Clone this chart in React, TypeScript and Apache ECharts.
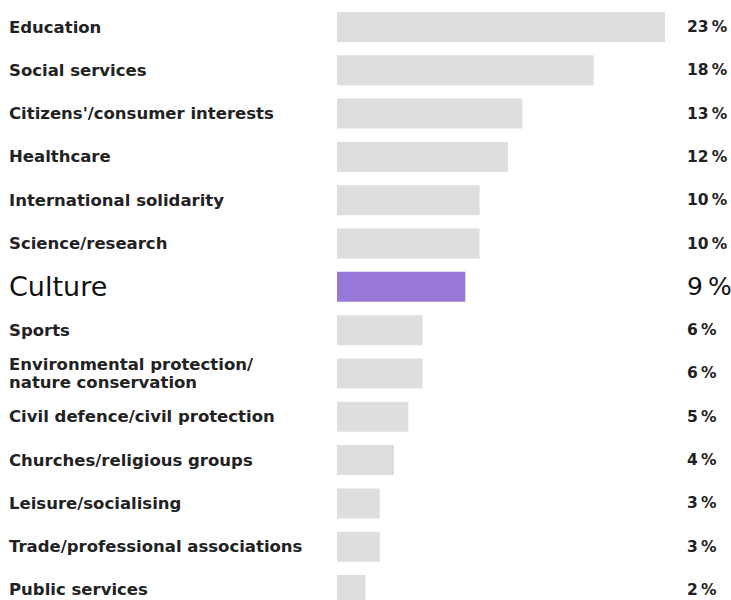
import React, { useEffect, useRef } from "react";
import * as echarts from "echarts";

const categories = [
  "Education",
  "Social services",
  "Citizens'/consumer interests",
  "Healthcare",
  "International solidarity",
  "Science/research",
  "Culture",
  "Sports",
  "Environmental protection/\nnature conservation",
  "Civil defence/civil protection",
  "Churches/religious groups",
  "Leisure/socialising",
  "Trade/professional associations",
  "Public services",
];
const values = [23, 18, 13, 12, 10, 10, 9, 6, 6, 5, 4, 3, 3, 2];
const highlight = "Culture";

export default function App() {
  const ref = useRef<HTMLDivElement>(null);
  useEffect(() => {
    if (!ref.current) return;
    const chart = echarts.init(ref.current, undefined, { renderer: "svg" });
    const font = "DejaVu Sans";
    chart.setOption({
      animation: false,
      backgroundColor: "#ffffff",
      grid: { left: 337, width: 328, top: 5.35, height: 606.3, outerBoundsMode: "none", containLabel: false },
      xAxis: {
        type: "value",
        min: 0,
        max: 23,
        show: false,
      },
      yAxis: [
        {
          type: "category",
          data: categories,
          inverse: true,
          position: "left",
          axisLine: { show: false },
          axisTick: { show: false },
          splitLine: { show: false },
          axisLabel: {
            align: "left",
            margin: 328,
            fontFamily: font,
            fontSize: 16.5,
            fontWeight: "bold",
            color: "#222222",
            lineHeight: 18,
            formatter: (v: string) => (v === highlight ? `{hl|${v}}` : v),
            rich: {
              hl: { fontFamily: font, fontSize: 27, fontWeight: "normal", color: "#111111" },
            },
          },
        },
        {
          type: "category",
          data: categories,
          inverse: true,
          position: "right",
          axisLine: { show: false },
          axisTick: { show: false },
          splitLine: { show: false },
          axisLabel: {
            align: "left",
            margin: 22,
            fontFamily: font,
            fontSize: 15.5,
            fontWeight: "bold",
            color: "#222222",
            formatter: (v: string, i: number) =>
              v === highlight ? `{hl|${values[i]}\u202F%}` : `${values[i]}\u202F%`,
            rich: {
              hl: { fontFamily: font, fontSize: 25, fontWeight: "normal", color: "#111111" },
            },
          },
        },
      ],
      series: [
        {
          type: "bar",
          yAxisIndex: 0,
          barWidth: 30,
          silent: true,
          data: values.map((v, i) => ({
            value: v,
            itemStyle: { color: categories[i] === highlight ? "#9878d6" : "#dedede" },
          })),
        },
      ],
    });
    return () => chart.dispose();
  }, []);
  return (
    <div
      ref={ref}
      style={{ position: "fixed", left: 0, top: 0, width: 731, height: 600 }}
    />
  );
}
